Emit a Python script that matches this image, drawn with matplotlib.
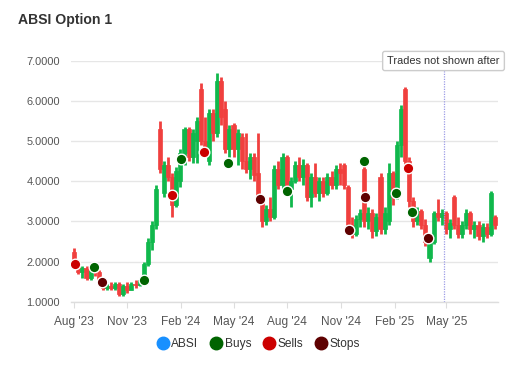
import matplotlib
matplotlib.use('Agg')
import matplotlib.pyplot as plt
import matplotlib.dates as mdates
from matplotlib.lines import Line2D
import numpy as np
import pandas as pd

plt.rcParams['font.family'] = ['Liberation Sans', 'DejaVu Sans']

# ========== 数据 (weekly candles) ==========
week_dates = pd.date_range('2023-08-02', periods=104, freq='7D')

opens = [2.25, 2.00, 1.75, 1.85, 1.60, 1.80, 1.75, 1.55, 1.35, 1.40,
         1.35, 1.45, 1.20, 1.40, 1.30, 1.45, 1.42, 1.55, 1.95, 2.50,
         2.90, 5.30, 3.70, 4.40, 4.10, 3.40, 4.00, 4.70, 5.30, 4.60,
         5.00, 6.30, 5.00, 4.50, 5.70, 5.20, 6.50, 5.80, 4.80, 5.40,
         4.80, 5.10, 4.50, 4.30, 4.60, 4.20, 3.50, 3.00, 3.30, 3.10,
         4.30, 3.90, 4.60, 3.80, 4.00, 4.40, 4.10, 4.40, 3.60, 4.10,
         3.70, 4.00, 3.70, 4.10, 3.90, 4.30, 4.40, 3.85, 2.90, 2.70,
         3.05, 4.30, 3.00, 3.20, 2.75, 4.10, 2.80, 3.00, 4.20, 3.60,
         4.90, 6.30, 4.50, 3.50, 3.00, 3.25, 2.90, 2.10, 2.50, 3.20,
         3.10, 3.20, 2.80, 3.60, 2.90, 2.70, 2.90, 3.20, 2.80, 2.90,
         2.65, 2.85, 2.70, 3.10]
highs = [2.35, 2.05, 1.90, 1.90, 1.85, 1.90, 1.80, 1.60, 1.45, 1.48,
         1.50, 1.50, 1.45, 1.48, 1.50, 1.55, 1.60, 2.00, 2.60, 3.00,
         3.90, 5.50, 4.50, 4.60, 4.20, 4.35, 4.80, 5.35, 5.35, 5.30,
         5.60, 6.45, 5.60, 5.80, 5.80, 6.70, 6.60, 6.00, 5.40, 5.45,
         5.30, 5.20, 5.20, 4.70, 4.70, 5.20, 3.55, 3.40, 3.60, 4.40,
         4.50, 4.70, 4.65, 4.10, 4.50, 4.60, 4.55, 4.45, 4.20, 4.45,
         4.10, 4.10, 4.20, 4.25, 4.40, 4.45, 4.45, 3.90, 3.10, 3.15,
         3.30, 4.40, 3.35, 3.30, 3.20, 4.20, 3.35, 4.45, 4.25, 5.00,
         5.90, 6.35, 4.60, 3.60, 3.35, 3.30, 3.05, 2.55, 3.25, 3.55,
         3.30, 3.25, 3.05, 3.65, 3.10, 3.00, 3.30, 3.25, 3.00, 3.00,
         2.95, 2.95, 3.75, 3.15]
lows = [1.95, 1.70, 1.60, 1.55, 1.55, 1.65, 1.50, 1.30, 1.28, 1.30,
        1.30, 1.15, 1.15, 1.22, 1.28, 1.35, 1.38, 1.50, 1.90, 2.30,
        2.80, 4.20, 3.60, 4.00, 3.10, 3.35, 3.85, 4.40, 4.50, 4.45,
        4.45, 4.90, 4.60, 4.40, 5.00, 5.10, 5.40, 4.70, 4.60, 4.60,
        4.40, 4.30, 4.20, 4.05, 4.00, 3.50, 2.85, 2.90, 3.00, 3.05,
        3.80, 3.80, 3.70, 3.35, 3.95, 4.00, 3.90, 3.50, 3.35, 3.60,
        3.50, 3.60, 3.65, 3.80, 3.80, 3.90, 3.80, 2.80, 2.60, 2.65,
        2.85, 2.85, 2.80, 2.60, 2.65, 2.70, 2.70, 2.90, 3.40, 3.55,
        4.60, 4.40, 3.35, 2.85, 2.90, 2.80, 2.40, 2.00, 2.45, 3.00,
        2.90, 2.70, 2.60, 2.80, 2.60, 2.60, 2.80, 2.70, 2.60, 2.55,
        2.50, 2.60, 2.65, 2.80]
closes = [2.00, 1.75, 1.85, 1.60, 1.80, 1.75, 1.55, 1.35, 1.40, 1.35,
          1.45, 1.20, 1.40, 1.30, 1.45, 1.42, 1.55, 1.95, 2.50, 2.90,
          3.80, 4.30, 4.40, 4.10, 3.40, 4.25, 4.70, 5.30, 4.60, 5.20,
          5.50, 5.00, 4.70, 5.70, 5.20, 6.50, 5.60, 4.80, 5.30, 4.80,
          5.20, 4.50, 4.30, 4.60, 4.15, 3.60, 3.00, 3.30, 3.10, 4.30,
          3.90, 4.60, 3.80, 4.00, 4.40, 4.10, 4.40, 3.60, 4.10, 3.70,
          4.00, 3.70, 4.10, 3.90, 4.30, 4.20, 3.90, 2.90, 2.70, 3.05,
          3.20, 3.00, 3.20, 2.75, 3.10, 2.80, 3.20, 4.20, 3.60, 4.90,
          5.80, 4.50, 3.50, 3.00, 3.25, 2.90, 2.50, 2.50, 3.20, 3.10,
          3.20, 2.80, 2.95, 2.90, 2.70, 2.90, 3.20, 2.80, 2.90, 2.65,
          2.85, 2.70, 3.70, 2.90]

buy_dates = ['2023-09-05', '2023-11-29', '2024-02-01', '2024-04-22', '2024-08-01',
             '2024-12-11', '2025-02-03', '2025-03-03']
buy_prices = [1.87, 1.55, 4.55, 4.45, 3.75, 4.50, 3.70, 3.24]
sell_dates = ['2023-08-03', '2024-01-17', '2024-03-11', '2025-02-24']
sell_prices = [1.94, 3.65, 4.73, 4.33]
stop_dates = ['2023-09-18', '2024-06-16', '2024-11-15', '2024-12-12', '2025-03-30']
stop_prices = [1.50, 3.56, 2.79, 3.60, 2.59]

cutoff_date = '2025-04-26'
y_ticks = [1, 2, 3, 4, 5, 6, 7]
x_ticks = ['2023-08-01', '2023-11-01', '2024-02-01', '2024-05-01', '2024-08-01',
           '2024-11-01', '2025-02-01', '2025-05-01']

# ========== 颜色 ==========
UP = '#10b84c'
DOWN = '#f0403e'
C_ABSI = '#1890ff'
C_BUY = '#006400'
C_SELL = '#cc0000'
C_STOP = '#5e0000'

fig = plt.figure(figsize=(5.3, 3.8), dpi=100)
ax = fig.add_axes([71 / 530, 78.3 / 380, 426.7 / 530, 240.7 / 380])

x = mdates.date2num(week_dates)
o = np.array(opens); h = np.array(highs); l = np.array(lows); c = np.array(closes)
cols = np.where(c >= o, UP, DOWN)
ax.vlines(x, l, h, colors=cols, linewidth=2.0, zorder=3)
ax.bar(x, np.abs(c - o), bottom=np.minimum(o, c), width=7.0, color=cols,
       edgecolor=cols, linewidth=0.5, zorder=3)

for d, p, col in [(buy_dates, buy_prices, C_BUY), (sell_dates, sell_prices, C_SELL),
                  (stop_dates, stop_prices, C_STOP)]:
    ax.scatter(pd.to_datetime(d), p, s=58, color=col, edgecolors='white',
               linewidths=1.0, zorder=5)

# cutoff line
cx = mdates.date2num(pd.Timestamp(cutoff_date))
ax.axvline(cx, color='#9c9ce6', linestyle=(0, (1, 1)), linewidth=0.9, zorder=4)
ax.text(cx, 7.0, 'Trades not shown after', ha='center', va='center', fontsize=7.9,
        color='#333333', zorder=6, clip_on=False,
        bbox=dict(boxstyle='round,pad=0.42,rounding_size=0.2', fc='white',
                  ec='#cccccc', lw=1.0))

# axes
x0 = mdates.date2num(pd.Timestamp('2023-08-01'))
ax.set_xlim(x0 - 4.6, x0 + 726.9)
ax.set_ylim(1, 7)
ax.set_yticks(y_ticks)
ax.set_yticklabels([f'{v:.4f}' for v in y_ticks])
ax.set_xticks(mdates.date2num(pd.to_datetime(x_ticks)))
ax.set_xticklabels([pd.Timestamp(t).strftime("%b '%y") for t in x_ticks])
ax.grid(axis='y', color='#e6e6e6', linewidth=1.0, zorder=0)
ax.set_axisbelow(True)
for s in ['top', 'right', 'left']:
    ax.spines[s].set_visible(False)
ax.spines['bottom'].set_color('#dddddd')
ax.spines['bottom'].set_linewidth(1.0)
ax.tick_params(axis='y', length=0, pad=8, labelsize=7.9, labelcolor='#555555')
ax.tick_params(axis='x', length=4, color='#dddddd', pad=6, labelsize=8.6,
               labelcolor='#555555')

fig.text(18 / 530, 1 - 20 / 380, 'ABSI Option 1', fontsize=10.1, fontweight='bold',
         color='#333333', ha='left', va='center')

handles = [Line2D([], [], marker='o', linestyle='', markersize=9, color=cc)
           for cc in [C_ABSI, C_BUY, C_SELL, C_STOP]]
fig.legend(handles, ['ABSI', 'Buys', 'Sells', 'Stops'], loc='center',
           bbox_to_anchor=(259 / 530, 1 - 344 / 380), ncol=4, frameon=False,
           fontsize=8.6, handlelength=0.8, handletextpad=0.3, columnspacing=1.1,
           labelcolor='#333333')

fig.savefig('out.png', dpi=100)
